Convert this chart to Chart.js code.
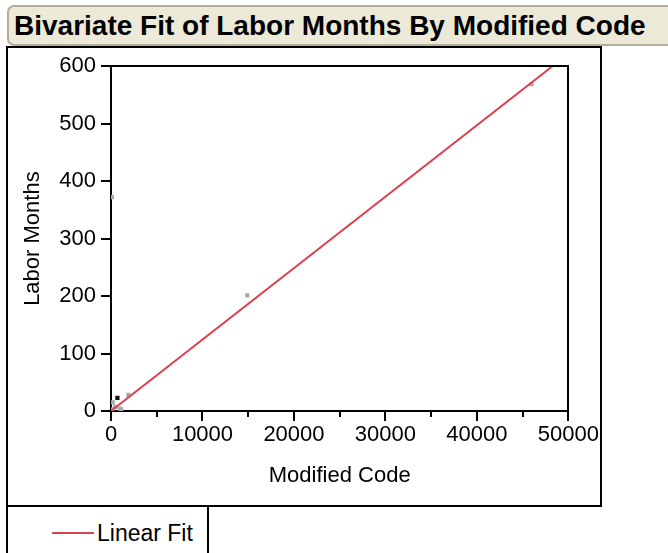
<!DOCTYPE html>
<html>
<head>
<meta charset="utf-8">
<script src="https://cdn.jsdelivr.net/npm/chart.js@4/dist/chart.umd.min.js"></script>
<style>
  html, body { margin: 0; padding: 0; background: #fff; overflow: hidden; width: 668px; height: 553px; }
  body { position: relative; font-family: "Liberation Sans", Arial, sans-serif; }
  #title {
    position: absolute; left: 7px; top: 5px; width: 720px; height: 37px;
    background: #ece9d8; border: 2px solid #b5ae98; border-radius: 7px;
    font-weight: bold; font-size: 28px; line-height: 37px; padding-left: 5px; color: #000;
    white-space: nowrap;
  }
  #frame {
    position: absolute; left: 6px; top: 46px; width: 596px; height: 461px;
    box-sizing: border-box; border: 2px solid #000;
  }
  #plot { position: absolute; left: 8px; top: 48px; width: 592px; height: 457px; }
  #legend {
    position: absolute; left: 6px; top: 505px; width: 203px; height: 60px;
    box-sizing: border-box; border: 2px solid #000;
  }
  #legend .swatch { position: absolute; left: 44px; top: 25px; width: 42px; height: 2px; background: #d9434f; }
  #legend .label { position: absolute; left: 89px; top: 12px; font-size: 23px; line-height: 28px; color: #000; }
</style>
</head>
<body>
<div id="title">Bivariate Fit of Labor Months By Modified Code</div>
<div id="frame"></div>
<div id="plot"><canvas id="fit-chart"></canvas></div>
<div id="legend"><div class="swatch"></div><div class="label">Linear Fit</div></div>
<script>
// observations (Modified Code, Labor Months)
var codeX  = [100, 14900, 45950, 1900, 200, 450, 950, 150, 1100];
var laborY = [372, 201, 569, 28, 15, 7, 4, 3, 3];
// darker mark near the origin (overlapping rows)
var overlapX = [700];
var overlapY = [23];
// linear fit end points
var fitX = [0, 48260];
var fitY = [0, 600];
// axis ticks
var xTicks = [0, 10000, 20000, 30000, 40000, 50000];
var xMinorTicks = [5000, 15000, 25000, 35000, 45000];
var yTicks = [0, 100, 200, 300, 400, 500, 600];

var toPoints = function(xs, ys){
    return xs.map(function(v, i){ return {x: v, y: ys[i]}; });
};

// closes the plot box and adds the short minor ticks
var plotFrame = {
    id: 'plotFrame',
    afterDraw: function(chart){
        var ctx = chart.ctx, a = chart.chartArea, xs = chart.scales.x;
        ctx.save();
        ctx.strokeStyle = '#000';
        ctx.lineWidth = 2;
        ctx.beginPath();
        ctx.moveTo(Math.round(a.left), Math.round(a.top));
        ctx.lineTo(Math.round(a.right), Math.round(a.top));
        ctx.lineTo(Math.round(a.right), Math.round(a.bottom));
        ctx.stroke();
        xMinorTicks.forEach(function(v){
            var px = Math.round(xs.getPixelForValue(v));
            ctx.beginPath();
            ctx.moveTo(px, Math.round(a.bottom));
            ctx.lineTo(px, Math.round(a.bottom) + 6);
            ctx.stroke();
        });
        ctx.restore();
    }
};

var tickFont = {family: '"Liberation Sans", Arial, sans-serif', size: 22};

var chartData = {
    datasets: [{
        type: 'line',
        label: 'Linear Fit',
        data: toPoints(fitX, fitY),
        borderColor: '#d9434f',
        borderWidth: 2,
        pointRadius: 0,
        fill: false,
        order: 0
    }, {
        label: 'Labor Months',
        data: toPoints(codeX, laborY),
        pointStyle: 'rect',
        pointRadius: 3,
        borderWidth: 0,
        backgroundColor: '#a9a9a9',
        order: 1
    }, {
        label: 'Overlap',
        data: toPoints(overlapX, overlapY),
        pointStyle: 'rect',
        pointRadius: 3,
        borderWidth: 0,
        backgroundColor: '#111',
        order: 1
    }]
};

var chartOptions = {
    responsive: true,
    maintainAspectRatio: false,
    animation: false,
    layout: { padding: {top: 17, right: 27, left: 0, bottom: 0} },
    plugins: { legend: {display: false}, tooltip: {enabled: false} },
    scales: {
        x: {
            type: 'linear',
            min: 0, max: 50000,
            afterBuildTicks: function(s){ s.ticks = xTicks.map(function(v){ return {value: v}; }); },
            afterFit: function(s){ s.height = 94; },
            ticks: { color: '#000', font: tickFont, padding: 1, maxRotation: 0, autoSkip: false,
                     callback: function(v){ return String(v); } },
            grid: { drawOnChartArea: false, drawTicks: true, tickLength: 10, color: '#000', lineWidth: 2, tickWidth: 2 },
            border: { display: true, color: '#000', width: 2 },
            title: { display: true, text: 'Modified Code', color: '#000', font: tickFont, padding: {top: 0, bottom: 16} }
        },
        y: {
            type: 'linear',
            min: 0, max: 600,
            afterBuildTicks: function(s){ s.ticks = yTicks.map(function(v){ return {value: v}; }); },
            afterFit: function(s){ s.width = 103; },
            ticks: { color: '#000', font: tickFont, padding: 5, autoSkip: false,
                     callback: function(v){ return String(v); } },
            grid: { drawOnChartArea: false, drawTicks: true, tickLength: 10, color: '#000', lineWidth: 2, tickWidth: 2 },
            border: { display: true, color: '#000', width: 2 },
            title: { display: true, text: 'Labor Months', color: '#000', font: tickFont, padding: {top: 12, bottom: 0} }
        }
    }
};

var config = {
    type: 'scatter',
    data: chartData,
    options: chartOptions,
    plugins: [plotFrame]
};

var fitChart = new Chart(document.getElementById('fit-chart'), config);
</script>
</body>
</html>
